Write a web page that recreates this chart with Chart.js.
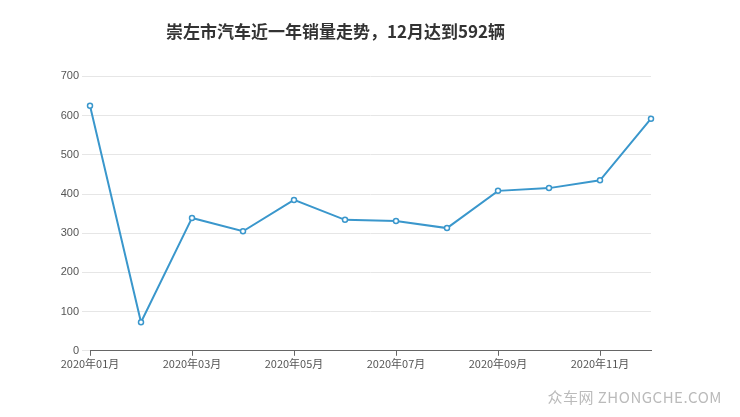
<!DOCTYPE html>
<html><head><meta charset="utf-8">
<script src="https://cdn.jsdelivr.net/npm/chart.js@4"></script>
<style>body{margin:0;background:#fff}#w{position:relative;width:740px;height:417px}
#wm{position:absolute;right:18px;bottom:10px;font:15px "Noto Sans CJK SC",sans-serif;color:#bbb;letter-spacing:0.5px}</style>
</head><body><div id="w"><canvas id="c" width="740" height="417"></canvas><div id="wm">众车网 ZHONGCHE.COM</div></div>
<script>
const categories=["2020年01月","2020年02月","2020年03月","2020年04月","2020年05月","2020年06月","2020年07月","2020年08月","2020年09月","2020年10月","2020年11月","2020年12月"];
const sales=[625,73,339,305,385,334,331,313,408,415,435,592];
const titleText="崇左市汽车近一年销量走势，12月达到592辆";
new Chart(document.getElementById('c'),{type:'line',
data:{labels:categories,datasets:[{data:sales,borderColor:'#3a97cc',borderWidth:2,tension:0,pointRadius:2.5,pointBackgroundColor:'#fff',pointBorderColor:'#3a97cc',pointBorderWidth:1.5}]},
options:{responsive:false,animation:false,layout:{padding:{left:20,right:89,top:5,bottom:46}},
plugins:{legend:{display:false},tooltip:{enabled:false},title:{display:true,text:titleText,color:'#333',font:{size:17,weight:'bold',family:'"Noto Sans CJK SC"'},padding:{top:16,bottom:35}}},
scales:{x:{offset:false,grid:{display:true,drawOnChartArea:false,tickLength:5,color:function(c){return c.index%2==0?'#666':'rgba(0,0,0,0)';}},border:{color:'#666'},ticks:{padding:1,color:'#555',font:{size:11,family:'"Noto Sans CJK SC"'},maxRotation:0,autoSkip:false,callback:function(v,i){return i%2==0?categories[i]:'';}}},
y:{min:0,max:700,afterFit:function(s){s.width=70;},ticks:{stepSize:100,color:'#555',font:{size:11}},grid:{color:'#e6e6e6'},border:{display:false}}}}});
</script></body></html>
